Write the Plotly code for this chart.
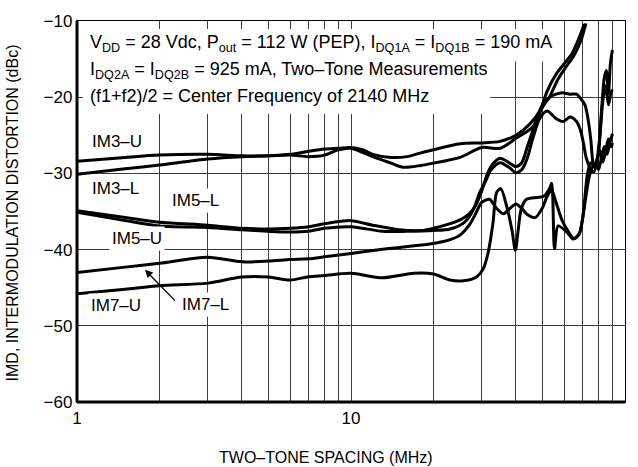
import plotly.graph_objects as go

# ---------------- data ----------------
x_tick_vals = [1, 10, 100]
x_tick_text = ["1", "10", "100"]
x_minor_vals = [2, 3, 4, 5, 6, 7, 8, 9, 20, 30, 40, 50, 60, 70, 80, 90]
y_tick_vals = [-60, -50, -40, -30, -20, -10]

im3_u_x = [1, 1.5, 2, 3, 4, 5, 6, 7, 8, 9, 10, 11, 12, 14, 16, 18, 20, 25, 30, 35, 40, 45, 49, 52, 56, 60, 64, 68, 71]
im3_u_y = [-28.4, -27.9, -27.6, -27.5, -27.7, -27.7, -27.5, -27.1, -26.8, -26.7, -26.6, -26.9, -27.5, -27.9, -27.8,
           -27.3, -26.9, -26.1, -26.0, -25.8, -25.0, -23.5, -21.7, -19.2, -17.0, -15.6, -14.3, -12.2, -10.4]

im3_l_x = [1, 1.5, 2, 3, 4, 5, 6, 7, 8, 9, 10, 12, 14, 15.5, 18, 20, 25, 30, 35, 40, 46, 50, 53, 57, 61, 65, 69, 72]
im3_l_y = [-30.1, -29.4, -28.9, -28.1, -27.8, -27.7, -27.6, -27.8, -27.6, -26.9, -26.7, -27.8, -28.65, -29.2,
           -28.95, -28.65, -27.9, -26.6, -26.7, -25.4, -23.9, -21.3, -20.0, -17.6, -16.0, -14.6, -12.6, -10.3]

im5_l_x = [1, 1.5, 2, 3, 4, 5, 6, 7, 8, 10, 12, 15, 18, 20, 23, 25, 27, 28.5, 30, 31.5, 33, 35, 37, 40, 42, 44,
           47, 50, 53, 56, 59, 63, 66.6, 69, 71.4, 73, 75, 76.5, 78, 80, 82, 84, 85.5, 87, 88.5, 90]
im5_l_y = [-34.9, -35.8, -36.4, -36.8, -37.2, -37.3, -37.2, -37.0, -36.6, -36.2, -36.8, -37.4, -37.5, -37.2,
           -36.6, -36.1, -35.3, -34.2, -32.3, -30.0, -28.7, -28.0, -28.4, -29.1, -28.6, -26.5,
           -23.5, -21.0, -20.0, -19.6, -19.4, -19.6, -19.6, -20.2, -21.0, -22.5, -25.5, -28.7, -29.3, -27.5,
           -22.0, -17.5, -16.5, -19.5, -15.5, -13.8]

im5_u_x = [1, 1.5, 2, 3, 4, 5, 6, 7, 8, 10, 13, 16, 20, 23, 26, 28, 29.5, 31, 32.5, 35, 38, 40, 42, 44, 46, 49,
           52, 56, 59.4, 63, 66.6, 69, 70.5, 72, 73.5, 75, 77, 79, 81, 83, 85, 87, 89, 90]
im5_u_y = [-35.1, -36.2, -36.9, -37.1, -37.4, -37.6, -37.7, -37.6, -37.2, -37.0, -37.6, -37.6, -37.5, -37.3,
           -36.4, -34.7, -32.5, -31.0, -29.5, -28.6, -29.3, -29.9, -29.5, -28.0, -25.5, -22.7,
           -21.8, -22.8, -23.2, -22.6, -23.2, -24.5, -26.0, -27.8, -28.8, -29.5, -29.8, -28.3, -25.0, -20.5,
           -18.5, -21.0, -19.3, -19.0]

im7_l_x = [1, 1.5, 2, 3, 4, 5, 6, 7, 8, 10, 13.5, 17, 20, 23, 25, 27, 28.5, 30, 32, 34, 36, 38, 40, 42, 44, 47,
           50, 52, 54, 56, 59, 62, 65, 68, 70, 72, 74, 76, 78, 80, 82, 84, 86, 88, 90]
im7_l_y = [-43.0, -42.3, -41.8, -41.0, -41.6, -41.5, -41.3, -41.2, -40.95, -40.5, -39.9, -39.5, -39.2, -38.7,
           -38.1, -36.8, -35.3, -33.8, -33.4, -34.6, -35.3, -34.6, -34.0, -34.6, -35.4, -35.8,
           -34.5, -33.0, -32.2, -33.8, -36.2, -37.6, -38.5, -38.0, -36.0, -33.0, -30.5, -29.2, -28.8, -29.5,
           -28.0, -26.5, -27.5, -26.0, -24.8]

im7_u_x = [1, 1.5, 2, 3, 4, 5, 6, 7, 8, 10, 13, 17, 20, 23, 25.7, 28.8, 30.4, 31.7, 33, 34, 35.2, 37, 38.7,
           39.8, 40.8, 41.8, 43.7, 46.4, 50.5, 53, 54, 55.3, 57, 61.3, 64.5, 66.5, 68.5, 70.5, 73, 75,
           77, 79, 81, 83, 85, 87, 89, 90]
im7_u_y = [-45.8, -45.2, -44.75, -44.4, -43.6, -43.6, -44.0, -43.55, -43.4, -43.1, -43.7, -43.1, -43.2, -44.0,
           -44.1, -43.55, -42.5, -40.3, -36.4, -32.5, -32.0, -34.3, -37.5, -40.1, -37.3, -34.7,
           -33.4, -33.2, -33.0, -32.0, -31.3, -39.9, -36.9, -37.7, -38.6, -38.4, -37.7, -35.1, -30.0, -28.6,
           -29.0, -28.2, -27.0, -28.5, -27.0, -25.5, -26.5, -26.0]

series = [
    ("IM3-U", im3_u_x, im3_u_y),
    ("IM3-L", im3_l_x, im3_l_y),
    ("IM5-L", im5_l_x, im5_l_y),
    ("IM5-U", im5_u_x, im5_u_y),
    ("IM7-L", im7_l_x, im7_l_y),
    ("IM7-U", im7_u_x, im7_u_y),
]

# ---------------- figure ----------------
FONT = "Liberation Sans, Arial, sans-serif"
GRID = "#3c3c3c"

fig = go.Figure()
for name, xs, ys in series:
    fig.add_trace(go.Scatter(x=xs, y=ys, mode="lines", name=name,
                             line=dict(color="black", width=3, shape="spline", smoothing=0.8),
                             showlegend=False, hoverinfo="skip"))

fig.update_layout(
    width=638, height=467,
    margin=dict(l=77, r=13, t=16, b=65),
    paper_bgcolor="white", plot_bgcolor="white",
    font=dict(family=FONT, size=17, color="black"),
)

fig.update_xaxes(
    type="log", range=[0, 2],
    tickmode="array", tickvals=x_tick_vals, ticktext=x_tick_text,
    ticks="", showgrid=True, gridcolor=GRID, gridwidth=1,
    minor=dict(tickmode="array", tickvals=x_minor_vals, showgrid=True,
               gridcolor=GRID, gridwidth=1, ticks=""),
    showline=True, linecolor="black", linewidth=1.3, mirror=True,
    zeroline=False, tickfont=dict(size=17),
)
fig.update_yaxes(
    range=[-60, -10], tickvals=y_tick_vals,
    ticks="", showgrid=True, gridcolor=GRID, gridwidth=1,
    showline=True, linecolor="black", linewidth=1.3, mirror=True,
    zeroline=False, tickfont=dict(size=17),
)

# white masks behind the condition text (gridline stubs left visible as ticks)
fig.add_shape(type="rect", xref="x domain", yref="y domain", x0=0.011, x1=0.872, y0=0.894, y1=0.979,
              fillcolor="white", line=dict(width=0), layer="above")
fig.add_shape(type="rect", xref="x domain", yref="y domain", x0=0.011, x1=0.754, y0=0.756, y1=0.895,
              fillcolor="white", line=dict(width=0), layer="above")

# thick left and bottom axis lines
fig.add_shape(type="line", xref="x domain", yref="y domain", x0=0, x1=0, y0=0, y1=1,
              line=dict(color="black", width=3), layer="above")
fig.add_shape(type="line", xref="x domain", yref="y domain", x0=0, x1=1, y0=0, y1=0,
              line=dict(color="black", width=3), layer="above")

# condition text
lines = [
    ("V<sub>DD</sub> = 28 Vdc, P<sub>out</sub> = 112 W (PEP), I<sub>DQ1A</sub> = I<sub>DQ1B</sub> = 190 mA", 0.940),
    ("I<sub>DQ2A</sub> = I<sub>DQ2B</sub> = 925 mA, Two–Tone Measurements", 0.8705),
    ("(f1+f2)/2 = Center Frequency of 2140 MHz", 0.804),
]
for txt, yy in lines:
    fig.add_annotation(text=txt, xref="paper", yref="paper", x=0.0201, y=yy,
                       xanchor="left", yanchor="middle", showarrow=False,
                       font=dict(family=FONT, size=18, color="black"))

# curve labels
labels = [
    ("IM3–U", 0.022, 0.684),
    ("IM3–L", 0.022, 0.560),
    ("IM5–L", 0.168, 0.529),
    ("IM5–U", 0.059, 0.428),
    ("IM7–U", 0.020, 0.254),
    ("IM7–L", 0.186, 0.257),
]
for txt, xx, yy in labels:
    fig.add_annotation(text=txt, xref="paper", yref="paper", x=xx, y=yy,
                       xanchor="left", yanchor="middle", showarrow=False,
                       bgcolor="white", borderpad=2,
                       font=dict(family=FONT, size=17, color="black"))

# arrow to IM7-L
fig.add_annotation(text=" ", x=0.248, y=-42.64, xref="x", yref="y",
                   ax=32, ay=33, showarrow=True, arrowhead=2, arrowsize=1.2,
                   arrowwidth=1.3, arrowcolor="black", font=dict(size=2))

# axis titles
fig.add_annotation(text="TWO–TONE SPACING (MHz)", xref="paper", yref="paper",
                   x=0.454, y=-0.145, xanchor="center", yanchor="middle", showarrow=False,
                   font=dict(family=FONT, size=16, color="black"))
fig.add_annotation(text="IMD, INTERMODULATION DISTORTION (dBc)", xref="paper", yref="paper",
                   x=-0.1186, y=0.495, xanchor="center", yanchor="middle", textangle=-90,
                   showarrow=False, font=dict(family=FONT, size=16, color="black"))

fig.write_html("out.html", config={"displayModeBar": False},
               post_script="document.body.style.margin='0px';")
